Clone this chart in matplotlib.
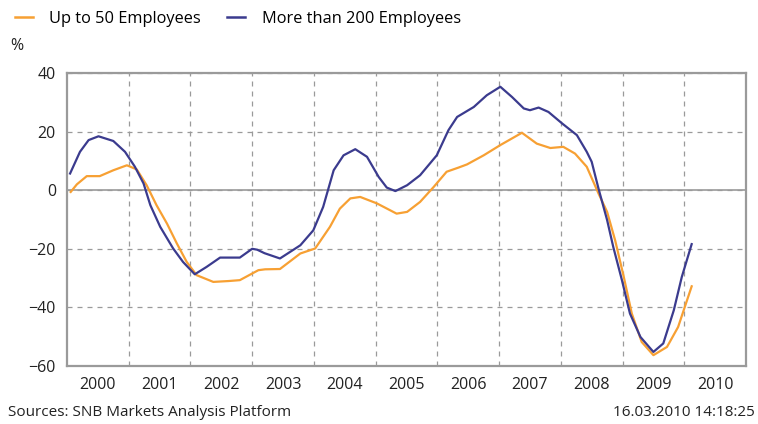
import matplotlib.pyplot as plt
from matplotlib.lines import Line2D

plt.rcParams["font.family"] = ["Open Sans", "DejaVu Sans"]

# values (time in fractional years, value in %)
small_t = [2000.06, 2000.16, 2000.32, 2000.53, 2000.75, 2000.97, 2001.13, 2001.29,
           2001.45, 2001.62, 2001.78, 2001.94, 2002.1, 2002.37, 2002.62, 2002.8,
           2002.95, 2003.1, 2003.21, 2003.45, 2003.78, 2004.02, 2004.26, 2004.42,
           2004.59, 2004.75, 2005.02, 2005.34, 2005.51, 2005.72, 2005.94, 2006.15,
           2006.34, 2006.48, 2006.75, 2007.02, 2007.37, 2007.61, 2007.83, 2008.04,
           2008.23, 2008.42, 2008.61, 2008.75, 2008.88, 2009.02, 2009.15, 2009.31,
           2009.5, 2009.72, 2009.9, 2010.12]
small_v = [-0.6, 2.0, 4.8, 4.8, 6.8, 8.5, 7.1, 1.7,
           -5.1, -11.4, -18.2, -24.5, -29.0, -31.3, -31.0, -30.7,
           -29.0, -27.3, -27.0, -26.9, -21.6, -19.9, -12.5, -6.3,
           -2.8, -2.3, -4.5, -8.0, -7.4, -4.0, 1.1, 6.3,
           7.7, 8.8, 11.9, 15.4, 19.6, 15.9, 14.4, 14.8,
           12.5, 8.0, -1.1, -7.4, -17.1, -29.6, -42.1, -51.8,
           -56.3, -53.5, -46.7, -32.8]

large_t = [2000.05, 2000.21, 2000.35, 2000.51, 2000.75, 2000.94, 2001.1, 2001.24,
           2001.35, 2001.51, 2001.72, 2001.88, 2002.07, 2002.26, 2002.48, 2002.8,
           2003.0, 2003.08, 2003.2, 2003.45, 2003.78, 2003.99, 2004.15, 2004.32,
           2004.48, 2004.67, 2004.86, 2005.05, 2005.18, 2005.32, 2005.51, 2005.72,
           2005.99, 2006.18, 2006.32, 2006.59, 2006.8, 2007.02, 2007.21, 2007.4,
           2007.5, 2007.64, 2007.8, 2008.02, 2008.26, 2008.42, 2008.5, 2008.61,
           2008.75, 2008.85, 2008.99, 2009.12, 2009.29, 2009.5, 2009.66, 2009.83,
           2009.96, 2010.12]
large_v = [5.7, 13.1, 17.1, 18.4, 16.8, 13.1, 8.0, 2.3,
           -5.1, -12.5, -19.9, -24.5, -28.7, -26.2, -23.0, -23.0,
           -20.0, -20.3, -21.5, -23.3, -18.8, -13.7, -5.7, 6.8,
           11.9, 14.0, 11.4, 4.5, 0.9, -0.3, 1.7, 5.1,
           11.9, 20.5, 25.0, 28.4, 32.4, 35.3, 31.8, 27.9,
           27.3, 28.2, 26.7, 22.8, 18.8, 13.1, 9.7, 0.6,
           -10.2, -19.4, -30.7, -42.1, -50.1, -55.2, -52.3, -41.0,
           -29.6, -18.4]

years = list(range(2000, 2011))
y_ticks = [-60, -40, -20, 0, 20, 40]

ORANGE = "#F7A033"
BLUE = "#3B3B8E"
GRID = "#9A9A9A"
TEXT = "#222222"

fig = plt.figure(figsize=(7.58, 4.24), dpi=100)
ax = fig.add_axes([67 / 758, 1 - 366 / 424, 679 / 758, 293 / 424])

ax.plot(small_t, small_v, color=ORANGE, lw=1.6, zorder=3)
ax.plot(large_t, large_v, color=BLUE, lw=1.6, zorder=4)

ax.set_xlim(2000, 2011)
ax.set_ylim(-60, 40)

# year boundaries carry the grid, year labels sit mid-year
ax.set_xticks(years[1:])
ax.set_xticks([y + 0.5 for y in years], minor=True)
ax.set_xticklabels([])
ax.set_xticklabels([str(y) for y in years], minor=True)
ax.set_yticks(y_ticks)
ax.set_yticklabels([f"{v:d}".replace("-", "\u2212") for v in y_ticks])

ax.tick_params(which="both", length=0, labelsize=11.5, colors=TEXT)
ax.tick_params(axis="x", which="minor", pad=8)
ax.tick_params(axis="y", pad=8)

ax.grid(axis="both", which="major", color=GRID, ls=(0, (4, 4)), lw=0.9)
ax.axhline(0, color=GRID, lw=1.2, zorder=2)
ax.set_axisbelow(True)

for side in ax.spines.values():
    side.set_color(GRID)
    side.set_linewidth(1.6)

handles = [Line2D([], [], color=ORANGE, lw=1.8), Line2D([], [], color=BLUE, lw=1.8)]
fig.legend(handles, ["Up to 50 Employees", "More than 200 Employees"],
           loc="upper left", bbox_to_anchor=(0.0, 1.01), ncol=2, frameon=False,
           fontsize=11.8, handlelength=1.1, handletextpad=1.0, columnspacing=1.6)

fig.text(10 / 758, 1 - 46 / 424, "%", fontsize=11.5, color=TEXT, va="center")
fig.text(8 / 758, 1 - 412 / 424, "Sources: SNB Markets Analysis Platform",
         fontsize=11, color=TEXT, va="center")
fig.text(755 / 758, 1 - 412 / 424, "16.03.2010 14:18:25",
         fontsize=11, color=TEXT, va="center", ha="right")

fig.savefig("out.png", dpi=100)
